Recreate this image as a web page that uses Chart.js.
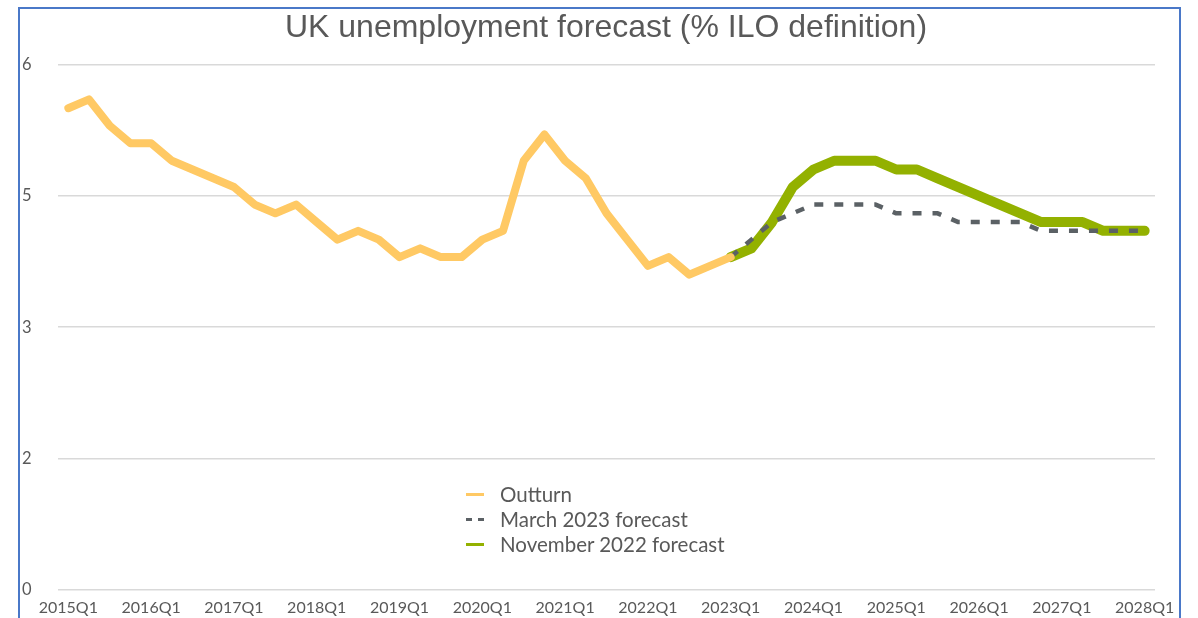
<!DOCTYPE html>
<html>
<head>
<meta charset="utf-8">
<script src="https://cdn.jsdelivr.net/npm/chart.js@4/dist/chart.umd.min.js"></script>
<style>
  html, body { margin: 0; padding: 0; background: #fff; }
  #wrap { position: relative; width: 1198px; height: 618px; overflow: hidden; }
  #frame { position: absolute; left: 18px; top: 7px; width: 1163px; height: 700px;
           border: 2px solid #4a78c8; box-sizing: border-box; pointer-events: none; }
  #legend { position: absolute; left: 466px; top: 482px; font-family: Lato, "Open Sans", sans-serif;
            font-size: 20.5px; color: #595959; line-height: 25px; }
  #legend .item { display: flex; align-items: center; white-space: nowrap; }
  #legend .swatch { width: 18px; height: 0; margin-right: 16px; }
</style>
</head>
<body>
<div id="wrap">
  <canvas id="graphique" width="1198" height="618"></canvas>
  <div id="frame"></div>
  <div id="legend"></div>
</div>
<script>
const titre = "UK unemployment forecast (% ILO definition)";

const trimestres = [];
for (let annee = 2015; annee <= 2028; annee++) {
  for (let q = 1; q <= 4; q++) {
    if (annee === 2028 && q > 1) break;
    trimestres.push(annee + "Q" + q);
  }
}

// Outturn 2015Q1 -> 2023Q1
const outturn = [5.5, 5.6, 5.3, 5.1, 5.1, 4.9, 4.8, 4.7, 4.6, 4.4, 4.3, 4.4,
  4.2, 4.0, 4.1, 4.0, 3.8, 3.9, 3.8, 3.8, 4.0, 4.1, 4.9, 5.2, 4.9, 4.7, 4.3,
  4.0, 3.7, 3.8, 3.6, 3.7, 3.8];

// Forecasts 2023Q1 -> 2028Q1
const mars2023 = [3.8, 4.0, 4.2, 4.3, 4.4, 4.4, 4.4, 4.4, 4.3, 4.3, 4.3, 4.2,
  4.2, 4.2, 4.2, 4.1, 4.1, 4.1, 4.1, 4.1, 4.1];
const novembre2022 = [3.8, 3.9, 4.2, 4.6, 4.8, 4.9, 4.9, 4.9, 4.8, 4.8, 4.7,
  4.6, 4.5, 4.4, 4.3, 4.2, 4.2, 4.2, 4.1, 4.1, 4.1];

const debutPrevision = outturn.length - 1;
function aligner(serie) {
  const res = new Array(debutPrevision).fill(null);
  return res.concat(serie);
}

const couleurOutturn = "#ffc964";
const couleurMars = "#5b6165";
const couleurNov = "#93b100";

const series = [
  { label: "Outturn", data: outturn, borderColor: couleurOutturn, borderWidth: 8, borderDash: [] },
  { label: "March 2023 forecast", data: aligner(mars2023), borderColor: couleurMars, borderWidth: 4.5, borderDash: [9, 11] },
  { label: "November 2022 forecast", data: aligner(novembre2022), borderColor: couleurNov, borderWidth: 10, borderDash: [] }
];

const texteGris = "#595959";

new Chart(document.getElementById("graphique"), {
  type: "line",
  data: {
    labels: trimestres,
    datasets: series.map(s => ({
      label: s.label,
      data: s.data,
      borderColor: s.borderColor,
      backgroundColor: s.borderColor,
      borderWidth: s.borderWidth,
      borderDash: s.borderDash,
      borderCapStyle: s.borderDash.length ? "butt" : "round",
      borderJoinStyle: "round",
      pointRadius: 0,
      tension: 0,
      spanGaps: false
    }))
  },
  options: {
    responsive: false,
    animation: false,
    layout: { padding: { left: 22, right: 8, top: 0, bottom: 0 } },
    plugins: {
      legend: { display: false },
      tooltip: { enabled: false },
      title: {
        display: true,
        text: titre,
        color: texteGris,
        font: { family: "'Liberation Sans', Arial, sans-serif", size: 32, weight: "normal" },
        padding: { top: 9, bottom: 17 }
      }
    },
    scales: {
      x: {
        offset: true,
        grid: { display: false },
        border: { display: false },
        ticks: {
          autoSkip: false,
          maxRotation: 0,
          padding: 0,
          color: texteGris,
          font: { family: "Lato, 'Open Sans', sans-serif", size: 16 },
          callback: function (value, index) {
            return index % 4 === 0 ? this.getLabelForValue(value) : "";
          }
        },
        afterFit: function (scale) { scale.height = 28; }
      },
      y: {
        min: 0,
        max: 6,
        grid: { color: "#d9d9d9", lineWidth: 1.5, drawTicks: false },
        border: { display: false },
        ticks: {
          stepSize: 1.5,
          padding: 0,
          crossAlign: "far",
          color: texteGris,
          font: { family: "Lato, 'Open Sans', sans-serif", size: 16.5 },
          callback: v => Math.round(v)
        },
        afterFit: function (scale) { scale.width = 36; }
      },
      marge: {
        position: "right",
        grid: { display: false },
        border: { display: false },
        ticks: { display: false },
        afterFit: function (scale) { scale.width = 35; }
      }
    }
  }
});

// Légende
const legendeElt = document.getElementById("legend");
for (let i = 0; i < series.length; i++) {
  const s = series[i];
  const item = document.createElement("div");
  item.className = "item";
  const sw = document.createElement("span");
  sw.className = "swatch";
  sw.style.borderTop = (s.borderDash.length ? "3px dashed " : "3px solid ") + s.borderColor;
  item.appendChild(sw);
  item.appendChild(document.createTextNode(s.label));
  legendeElt.appendChild(item);
}
</script>
</body>
</html>
